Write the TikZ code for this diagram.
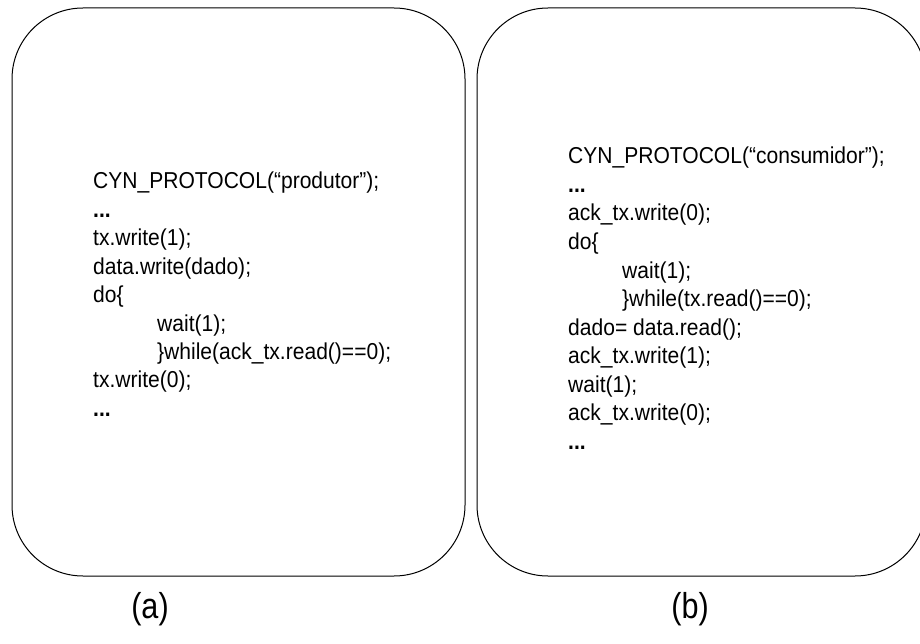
\documentclass[tikz,border=0pt]{standalone}
\usepackage{fontspec}
\setmainfont{Liberation Sans}
\newfontfamily\codefont[FakeStretch=0.915]{Liberation Sans}
\newfontfamily\capfont[FakeStretch=0.85]{Liberation Sans}
\begin{document}
\begin{tikzpicture}[x=1pt,y=-1pt]
\tikzset{
  panel/.style={draw=black, line width=1pt, rounded corners=71pt},
  code/.style={anchor=base west, font=\codefont\fontsize{23}{27}\selectfont, inner sep=0pt},
  caption/.style={anchor=base, font=\capfont\fontsize{36}{42}\selectfont, inner sep=0pt}
}
\newcommand\mydots{{\bfseries ...}}
\useasboundingbox (0,0) rectangle (920,644);
\clip (0,0) rectangle (920,644);
\draw[panel] (12,8) rectangle (465,576);
\draw[panel] (477,8) rectangle (926,576);
% left panel code
\node[code] (l1) at (93,189) {CYN\_PROTOCOL(“produtor”);};
\node[code] (l2) at (93,217.4) {\mydots};
\node[code] (l3) at (93,245.8) {tx.write(1);};
\node[code] (l4) at (93,274.2) {data.write(dado);};
\node[code] (l5) at (93,302.6) {do\{};
\node[code] (l6) at (157,331) {wait(1);};
\node[code] (l7) at (157,359.4) {\}while(ack\_tx.read()==0);};
\node[code] (l8) at (93,387.8) {tx.write(0);};
\node[code] (l9) at (93,416.2) {\mydots};
% right panel code
\node[code] (r1) at (568,164) {CYN\_PROTOCOL(“consumidor”);};
\node[code] (r2) at (568,192.5) {\mydots};
\node[code] (r3) at (568,221) {ack\_tx.write(0);};
\node[code] (r4) at (568,249.5) {do\{};
\node[code] (r5) at (622,278) {wait(1);};
\node[code] (r6) at (622,306.5) {\}while(tx.read()==0);};
\node[code] (r7) at (568,335) {dado= data.read();};
\node[code] (r8) at (568,363.5) {ack\_tx.write(1);};
\node[code] (r9) at (568,392) {wait(1);};
\node[code] (r10) at (568,420.5) {ack\_tx.write(0);};
\node[code] (r11) at (568,449) {\mydots};
% captions
\node[caption] (ca) at (150,618) {(a)};
\node[caption] (cb) at (690,618) {(b)};
\end{tikzpicture}
\end{document}
